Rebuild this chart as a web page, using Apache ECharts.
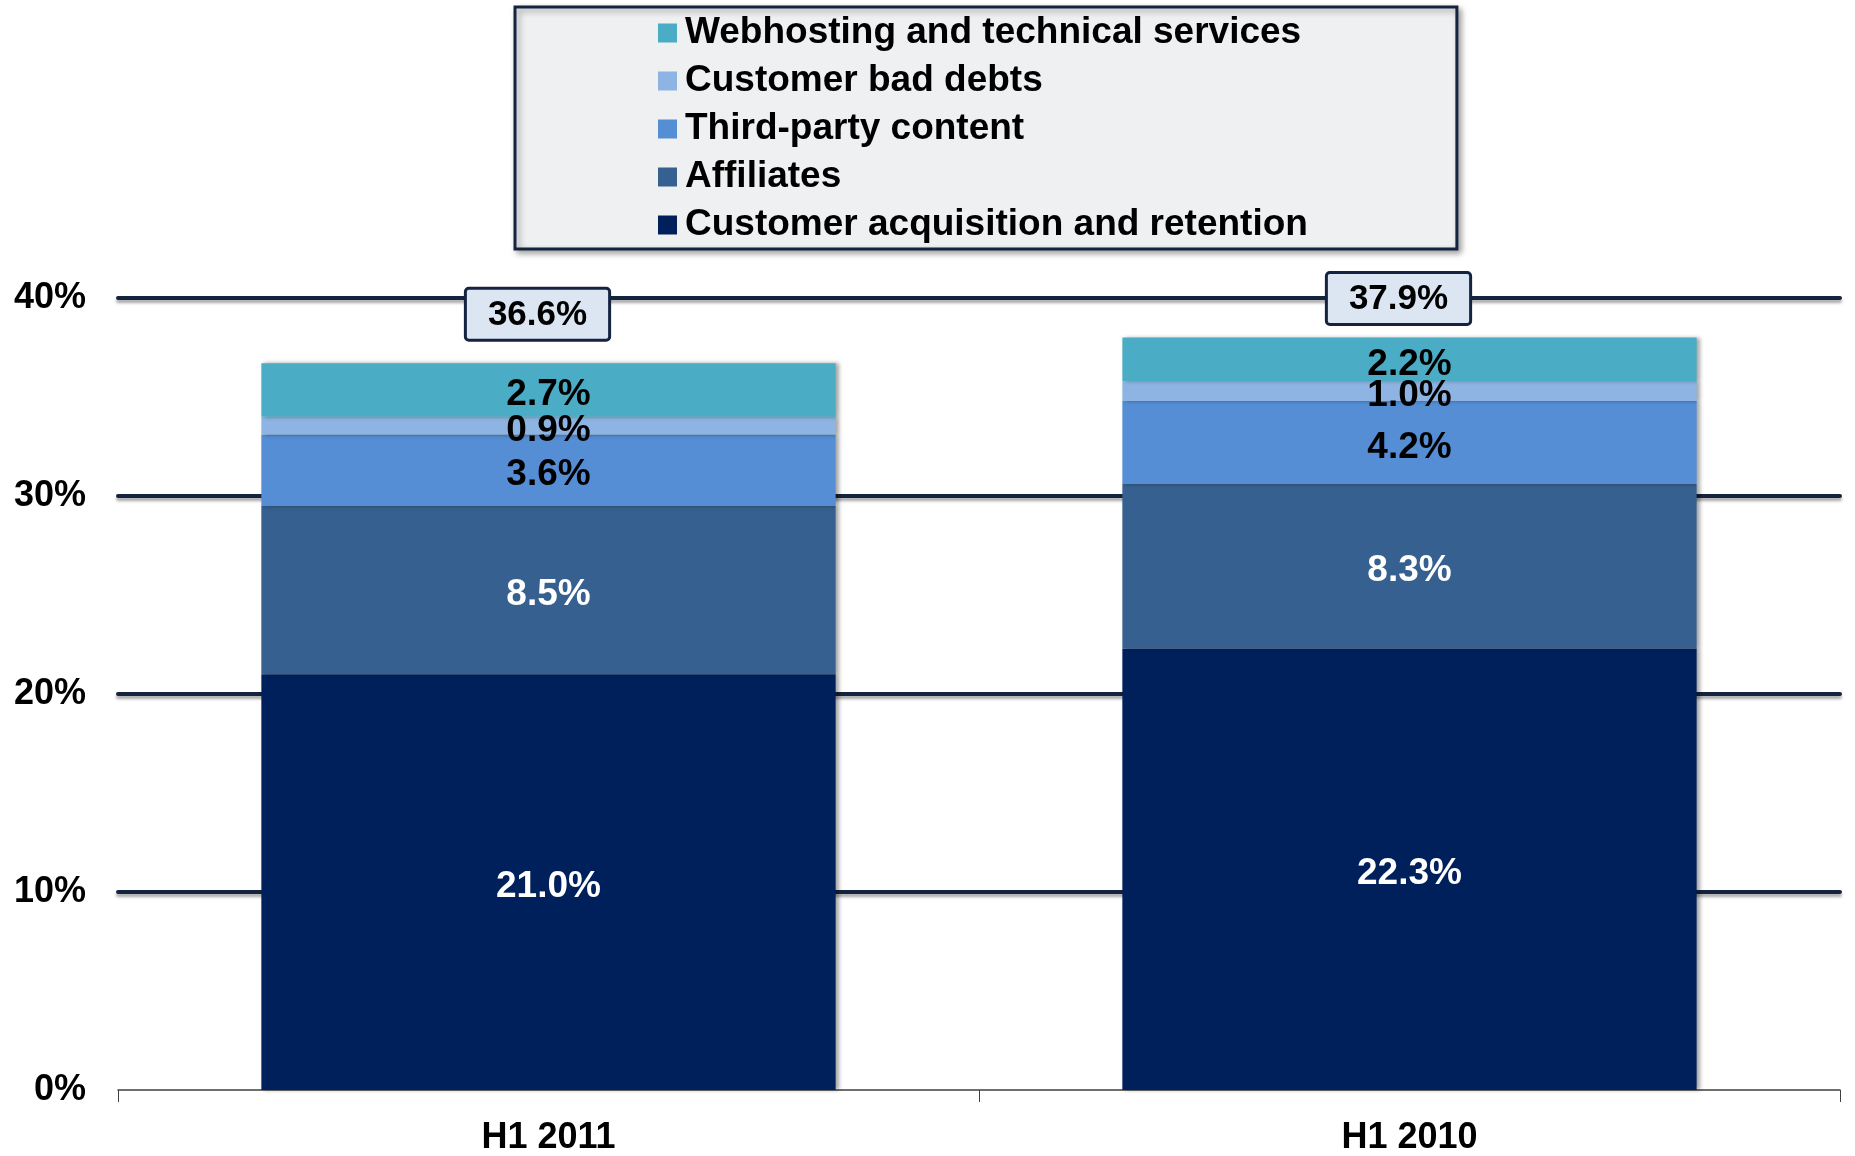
<!DOCTYPE html>
<html>
<head>
<meta charset="utf-8">
<title>Cost breakdown H1 2011 vs H1 2010</title>
<script src="https://cdn.jsdelivr.net/npm/echarts@6/dist/echarts.min.js"></script>
<style>
  html, body { margin: 0; padding: 0; background: #fff; }
  #chart { width: 1855px; height: 1156px; }
</style>
</head>
<body>
<div id="chart"></div>
<script>
// data (% of revenue)
var categories = ['H1 2011', 'H1 2010'];
var acquisition = [21.0, 22.3];
var affiliates = [8.5, 8.3];
var thirdParty = [3.6, 4.2];
var badDebts = [0.9, 1.0];
var webhosting = [2.7, 2.2];
var totals = [36.6, 37.9];
var yTicks = [0, 10, 20, 30, 40];

var legendNames = [
  'Webhosting and technical services',
  'Customer bad debts',
  'Third-party content',
  'Affiliates',
  'Customer acquisition and retention'
];

var font = "'Liberation Sans', Arial, sans-serif";
var pct = function (v) { return v.toFixed(1) + '%'; };

function segment(name, data, color, textColor) {
  return {
    name: name,
    type: 'bar',
    stack: 'cost',
    barWidth: '66.7%',
    data: data,
    itemStyle: {
      color: color,
      shadowColor: 'rgba(0,0,0,0.35)',
      shadowBlur: 4,
      shadowOffsetX: 3
    },
    label: {
      show: true,
      position: 'inside',
      offset: [0, 5],
      color: textColor,
      fontFamily: font,
      fontWeight: 'bold',
      fontSize: 37,
      formatter: function (p) { return pct(p.value); }
    }
  };
}

// total boxes sit a little higher over the first bar than over the second
var boxGap = [26, 16];

var chart = echarts.init(document.getElementById('chart'));
chart.setOption({
  animation: false,
  textStyle: { fontFamily: font },
  grid: { left: 118, right: 15, top: 298, bottom: 62 },
  legend: {
    orient: 'vertical',
    left: 515,
    top: 7,
    data: legendNames,
    icon: 'rect',
    itemWidth: 19,
    itemHeight: 19,
    itemGap: 8,
    padding: [6, 149, 4, 143],
    backgroundColor: '#eff0f2',
    borderColor: '#14233f',
    borderWidth: 3,
    shadowBlur: 6,
    shadowColor: 'rgba(0,0,0,0.35)',
    shadowOffsetX: 3,
    shadowOffsetY: 3,
    itemStyle: { shadowBlur: 0, shadowOffsetX: 0 },
    textStyle: {
      fontFamily: font,
      fontSize: 37,
      fontWeight: 'bold',
      color: '#000',
      lineHeight: 40,
      padding: [0, 0, 0, 3]
    }
  },
  xAxis: {
    type: 'category',
    data: categories,
    axisLine: { lineStyle: { color: '#404040', width: 1.5 } },
    axisTick: { show: true, length: 12, lineStyle: { color: '#404040' } },
    axisLabel: {
      color: '#000',
      fontFamily: font,
      fontWeight: 'bold',
      fontSize: 36,
      margin: 30
    }
  },
  yAxis: {
    type: 'value',
    min: yTicks[0],
    max: yTicks[yTicks.length - 1],
    interval: yTicks[1] - yTicks[0],
    axisLine: { show: false },
    axisTick: { show: false },
    axisLabel: {
      color: '#000',
      fontFamily: font,
      fontWeight: 'bold',
      fontSize: 36,
      margin: 32,
      formatter: '{value}%'
    },
    splitLine: {
      show: true,
      showMinLine: false,
      lineStyle: {
        color: '#15243e',
        width: 4,
        cap: 'round',
        shadowColor: 'rgba(0,0,0,0.35)',
        shadowBlur: 3,
        shadowOffsetY: 3
      }
    }
  },
  series: [
    segment('Customer acquisition and retention', acquisition, '#00205c', '#fff'),
    segment('Affiliates', affiliates, '#36608f', '#fff'),
    segment('Third-party content', thirdParty, '#558ed5', '#000'),
    segment('Customer bad debts', badDebts, '#8eb4e3', '#000'),
    segment('Webhosting and technical services', webhosting, '#4bacc6', '#000'),
    {
      // totals in boxes above each bar
      name: 'Total',
      type: 'scatter',
      data: totals.map(function (v, i) {
        return { value: v, label: { distance: boxGap[i] } };
      }),
      symbolSize: 1,
      itemStyle: { color: 'transparent', opacity: 1 },
      z: 5,
      label: {
        show: true,
        position: 'top',
        offset: [-11, 0],
        color: '#000',
        fontFamily: font,
        fontWeight: 'bold',
        fontSize: 35,
        backgroundColor: '#dce6f2',
        borderColor: '#14233f',
        borderWidth: 3,
        borderRadius: 2,
        padding: [8, 21, 6, 21],
        formatter: function (p) { return pct(p.value); }
      }
    }
  ]
});
</script>
</body>
</html>
